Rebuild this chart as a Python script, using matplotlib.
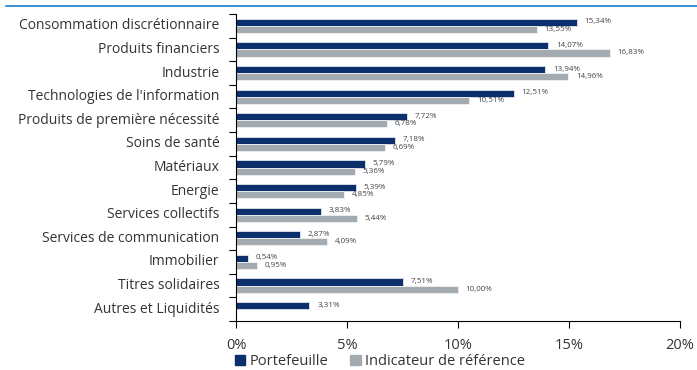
import matplotlib.pyplot as plt
import numpy as np
from matplotlib.lines import Line2D
from matplotlib.patches import Patch
from matplotlib.transforms import ScaledTranslation

plt.rcParams['font.family'] = ['Open Sans', 'DejaVu Sans']

categories = ["Consommation discrétionnaire", "Produits financiers", "Industrie",
              "Technologies de l'information", "Produits de première nécessité",
              "Soins de santé", "Matériaux", "Energie", "Services collectifs",
              "Services de communication", "Immobilier", "Titres solidaires",
              "Autres et Liquidités"]
portefeuille = [15.34, 14.07, 13.94, 12.51, 7.72, 7.18, 5.79, 5.39, 3.83, 2.87, 0.54, 7.51, 3.31]
indicateur = [13.55, 16.83, 14.96, 10.51, 6.78, 6.69, 5.36, 4.85, 5.44, 4.09, 0.95, 10.00, None]

navy = "#0b2f6b"
grey = "#a4abb0"

fig = plt.figure(figsize=(6.97, 3.70), dpi=100)
ax = fig.add_axes([236 / 697, 1 - 321 / 370, 444 / 697, 307 / 370])

y = np.arange(len(categories))
h = 0.3
ax.barh(y - 0.15, portefeuille, height=h, color=navy, edgecolor="#dfe6ef", linewidth=0.6)
ind_vals = [v if v is not None else 0 for v in indicateur]
ax.barh(y + 0.15, ind_vals, height=h, color=grey, edgecolor="#eef0f2", linewidth=0.6)

def fmt(v):
    return f"{v:.2f}".replace(".", ",") + "%"

for i, v in enumerate(portefeuille):
    ax.text(v + 0.35, i - 0.17, fmt(v), fontsize=5.8, color="#444444", va="center", ha="left")
for i, v in enumerate(indicateur):
    if v is not None:
        ax.text(v + 0.35, i + 0.15, fmt(v), fontsize=5.8, color="#444444", va="center", ha="left")

ax.set_xlim(0, 20)
ax.set_ylim(len(categories) - 0.5, -0.5)
ax.set_yticks(y)
ax.set_yticklabels(categories, fontsize=10, color="#333333")
ax.set_yticks(np.arange(-0.5, len(categories), 1), minor=True)
ax.tick_params(axis="y", which="major", length=0, pad=12)
ax.tick_params(axis="y", which="minor", length=5, width=0.8, direction="out")
# nudge category labels up slightly, as in the reference
shift = ScaledTranslation(0, 2 / 100, fig.dpi_scale_trans)
for lbl in ax.get_yticklabels():
    lbl.set_transform(lbl.get_transform() + shift)
ax.set_xticks([0, 5, 10, 15, 20])
ax.set_xticklabels(["0%", "5%", "10%", "15%", "20%"], fontsize=10.5, color="#333333")
ax.tick_params(axis="x", length=5, width=0.8, direction="out", pad=7)
ax.spines["top"].set_visible(False)
ax.spines["right"].set_visible(False)
ax.spines["left"].set_linewidth(0.8)
ax.spines["bottom"].set_linewidth(0.8)

handles = [Patch(color=navy), Patch(color=grey)]
fig.legend(handles, ["Portefeuille", "Indicateur de référence"], loc="lower left",
           bbox_to_anchor=(222 / 697, -0.032), ncol=2, frameon=False, fontsize=10.5,
           handlelength=0.7, handleheight=0.7, handletextpad=0.3, columnspacing=1.5,
           labelcolor="#333333")

fig.add_artist(Line2D([6 / 697, 1], [1 - 6 / 370, 1 - 6 / 370], color="#1b7bc8", linewidth=1.2,
                      transform=fig.transFigure))

fig.savefig("out.png", dpi=100)
